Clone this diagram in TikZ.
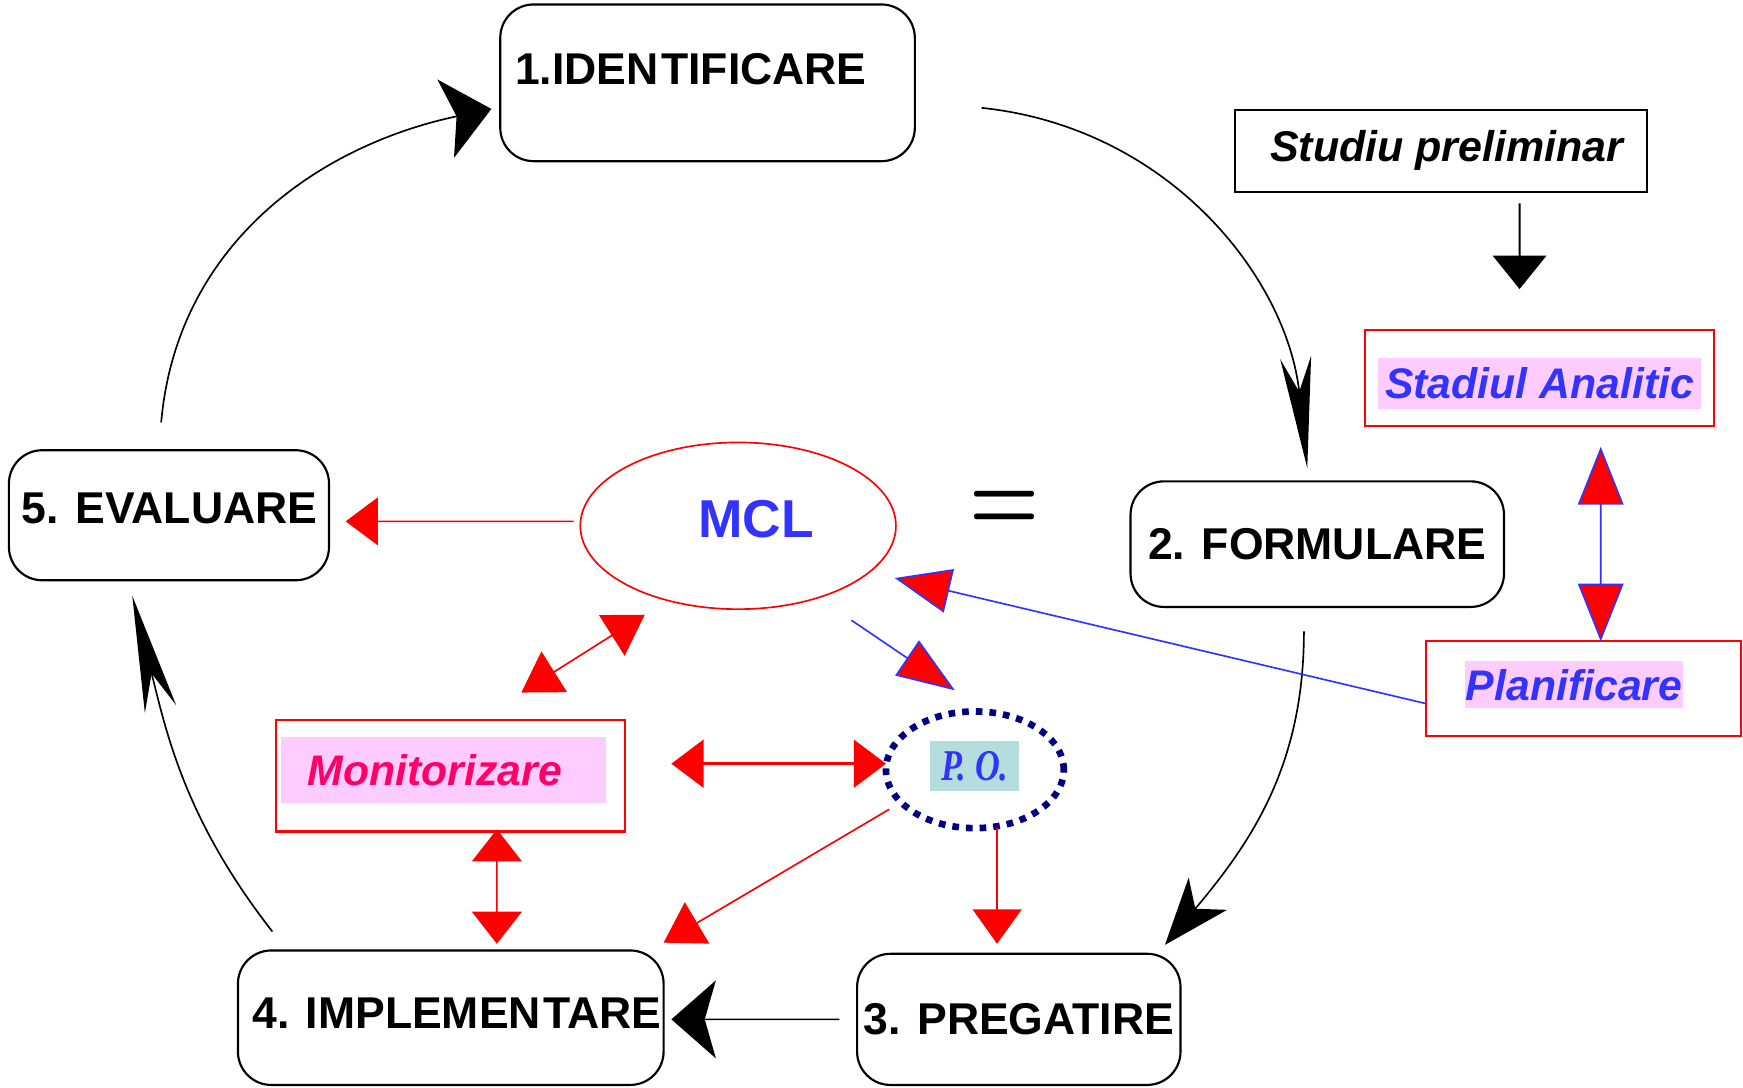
\documentclass[tikz,border=0pt]{standalone}
\usepackage{fontspec}
\newfontfamily\arialf{Liberation Sans}
\newfontfamily\timesf{Liberation Serif}
\usetikzlibrary{arrows.meta,shapes.geometric,calc}
\definecolor{tblue}{HTML}{3333FF}
\definecolor{hlpink}{HTML}{FFCCFF}
\definecolor{monred}{HTML}{FF0066}
\definecolor{poteal}{HTML}{B4DEDE}
\definecolor{navyblue}{HTML}{000080}
\tikzset{
  stage/.style={draw=black, line width=1.1pt, rounded corners=0.6cm, inner sep=0pt, outer sep=0pt,
    font=\arialf\bfseries\fontsize{22.8pt}{24pt}\selectfont},
  redbox/.style={draw=red, line width=1.1pt, inner sep=0pt, outer sep=0pt},
  hilite/.style={fill=hlpink, inner sep=0pt, outer sep=0pt},
  itlab/.style={font=\arialf\bfseries\itshape\fontsize{21.9pt}{23pt}\selectfont},
  blk/.style={draw=black, line width=0.85pt},
  redln/.style={draw=red, line width=0.85pt},
  blueln/.style={draw=tblue, line width=0.85pt},
}
\begin{document}
\begin{tikzpicture}[x=0.02cm, y=0.02cm]
\useasboundingbox (0,0) rectangle (1568,-978);
% stages
\node[stage, minimum width=7.46cm, minimum height=2.82cm] (box1) at (636.5,-74.5) {};
\node[anchor=west, inner sep=0pt, font=\arialf\bfseries\fontsize{22.8pt}{24pt}\selectfont] (t1) at (463,-62.5) {1.IDEN\kern0.06em TIFICARE};
\node[stage, minimum width=6.72cm, minimum height=2.26cm] (box2) at (1185,-489.5) {2. FORMULARE};
\node[stage, minimum width=5.82cm, minimum height=2.36cm] (box3) at (916.5,-917) {3. PREGATIRE};
\node[stage, minimum width=7.66cm, minimum height=2.42cm] (box4) at (405.5,-915.5) {};
\node[inner sep=0pt, font=\arialf\bfseries\fontsize{22.8pt}{24pt}\selectfont] (t4) at (411,-911) {4. IMPLEMEN\kern0.06em TARE};
\node[stage, minimum width=5.76cm, minimum height=2.34cm] (box5) at (152,-463.5) {};
\node[inner sep=0pt, font=\arialf\bfseries\fontsize{22.8pt}{24pt}\selectfont] (t5) at (152.5,-457) {5. EVALUARE};
% right side
\node[draw=black, line width=1.1pt, minimum width=7.42cm, minimum height=1.48cm, inner sep=0pt, outer sep=0pt] (stud) at (1296.5,-136) {};
\node[inner sep=0pt, font=\arialf\bfseries\itshape\fontsize{22pt}{24pt}\selectfont] (studtxt) at (1301.5,-135) {Studiu preliminar};
\node[redbox, minimum width=6.28cm, minimum height=1.72cm] (stad) at (1385,-340) {};
\node[hilite, itlab, text=tblue, minimum width=5.8cm, minimum height=0.92cm] (stadtxt) at (1385,-345) {Stadiul Analitic};
\node[redbox, minimum width=5.66cm, minimum height=1.70cm] (plan) at (1424.5,-619.5) {};
\node[hilite, itlab, text=tblue, minimum width=3.92cm, minimum height=0.84cm] (plantxt) at (1416,-616) {Planificare};
% monitorizare
\node[redbox, minimum width=6.28cm, minimum height=2.0cm] (mon) at (405,-698) {};
\node[hilite, minimum width=5.84cm, minimum height=1.18cm] (monhl) at (399,-692.5) {};
\node[itlab, text=monred, inner sep=0pt] (montxt) at (391,-693) {Monitorizare};
% MCL
\node[ellipse, draw=red, line width=0.85pt, minimum width=5.68cm, minimum height=3.0cm, inner sep=0pt, outer sep=0pt] (mcl) at (664,-473) {};
\node[font=\arialf\bfseries\fontsize{27.3pt}{28pt}\selectfont, text=tblue, inner sep=0pt] (mcltxt) at (680,-467) {MCL};
% P.O.
\node[ellipse, draw=navyblue, line width=3.4pt, dash pattern=on 3.4pt off 3.6pt, minimum width=3.2cm, minimum height=2.1cm, inner sep=0pt, outer sep=0pt] (po) at (877,-692.5) {};
\node[fill=poteal, minimum width=1.6cm, minimum height=0.9cm, inner sep=0pt, text=tblue] (potxt) at (877,-689.5)
  {\scalebox{0.78}[1]{\timesf\bfseries\itshape\fontsize{22.5pt}{24pt}\selectfont P. O.}};
% equal sign
\node[inner sep=0pt] (eq) at (904,-460) {\scalebox{1}[1.3]{\bfseries\fontsize{41pt}{44pt}\selectfont =}};
% cycle arrows
\draw[blk, -{Stealth[length=2cm,width=0.56cm,inset=0.62cm]}] ($(box1.east)+(60,-22.5)$) to[out=-6,in=96] ($(box2.north)+(-9,12)$);
\draw[blk, -{Stealth[length=1.2cm,width=0.9cm,inset=0.35cm]}] ($(box2.south)+(-12,-22)$) to[out=-90,in=50] ($(box3.north east)+(-14,8)$);
\draw[blk, -{Stealth[length=0.8cm,width=1.4cm,inset=0.2cm]}] ($(box3.west)+(-16,0)$) -- ($(box4.east)+(7,-1.5)$);
\draw[blk, -{Stealth[length=2.1cm,width=0.58cm,inset=0.66cm]}] ($(box4.north west)+(31,17)$) to[out=128,in=-76] ($(box5.south)+(-33,-14)$);
\draw[blk, -{Stealth[length=0.84cm,width=1.44cm,inset=0.2cm]}] ($(box5.north)+(-7,25)$) to[out=85,in=192] ($(box1.west)+(-8,-23.5)$);
% right side arrows
\draw[draw=black, line width=1.1pt, -{Triangle[length=0.6cm,width=0.96cm]}] ($(stud.south)+(70.5,-10)$) -- ($(stad.north)+(-18,37)$);
\draw[blueln, {Triangle[length=1.04cm,width=0.82cm,fill=red]}-{Triangle[length=1.04cm,width=0.82cm,fill=red]}] ($(stad.south)+(55,-19)$) -- ($(plan.north)+(15.5,0)$);
\draw[blueln, -{Triangle[length=1.0cm,width=0.8cm,fill=red]}] ($(plan.west)+(0,-13.5)$) -- ($(mcl.east)+(-1,-47)$);
\draw[blueln, -{Triangle[length=1.04cm,width=0.76cm,fill=red]}] ($(mcl.center)+(102,-85)$) -- ($(po.north)+(-18,19)$);
% red arrows
\draw[redln, -{Triangle[length=0.58cm,width=0.86cm]}] ($(mcl.west)+(-6,4)$) -- ($(box5.east)+(15,-5.5)$);
\draw[redln, {Triangle[length=0.7cm,width=0.86cm]}-{Triangle[length=0.7cm,width=0.86cm]}] ($(mcl.center)+(-84,-80)$) -- ($(mon.north)+(64,25)$);
\draw[draw=red, line width=1.6pt, {Triangle[length=0.58cm,width=0.86cm]}-{Triangle[length=0.58cm,width=0.86cm]}] ($(mon.east)+(42,11)$) -- ($(po.west)+(0,5.5)$);
\draw[redln, {Triangle[length=0.58cm,width=0.9cm]}-{Triangle[length=0.58cm,width=0.9cm]}] ($(mon.south)+(42,2)$) -- ($(box4.north)+(41.5,6)$);
\draw[redln, -{Triangle[length=0.7cm,width=0.86cm]}] ($(po.center)+(-77,-35.5)$) -- ($(box4.north east)+(0,7)$);
\draw[redln, -{Triangle[length=0.62cm,width=0.88cm]}] ($(po.south)+(20,0)$) -- ($(box3.north)+(-19.5,9)$);
\end{tikzpicture}
\end{document}
